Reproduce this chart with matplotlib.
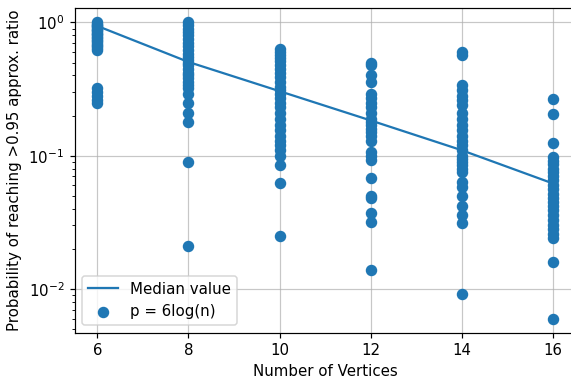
import matplotlib
matplotlib.use("Agg")
import matplotlib.pyplot as plt
import numpy as np

vertices = [6, 8, 10, 12, 14, 16]
median_values = [0.94, 0.505, 0.305, 0.184, 0.11, 0.062]

probs_6 = [1.0, 0.98, 0.96, 0.94, 0.92, 0.9, 0.88, 0.86, 0.84, 0.82, 0.8, 0.78,
           0.76, 0.74, 0.72, 0.7, 0.68, 0.66, 0.64, 0.62, 0.32, 0.3, 0.28, 0.26, 0.25]
probs_8 = [1.0, 0.95, 0.9, 0.85, 0.8, 0.75, 0.7, 0.66, 0.62, 0.58, 0.55, 0.52, 0.5,
           0.48, 0.45, 0.42, 0.4, 0.38, 0.36, 0.34, 0.32, 0.29, 0.25, 0.21, 0.18,
           0.089, 0.021]
probs_10 = [0.63, 0.6, 0.57, 0.54, 0.51, 0.48, 0.45, 0.42, 0.39, 0.36, 0.33, 0.31,
            0.29, 0.27, 0.25, 0.23, 0.21, 0.19, 0.17, 0.155, 0.14, 0.13, 0.12,
            0.11, 0.1, 0.085, 0.062, 0.025]
probs_12 = [0.5, 0.48, 0.4, 0.36, 0.29, 0.27, 0.25, 0.23, 0.21, 0.19, 0.18, 0.17,
            0.16, 0.15, 0.14, 0.13, 0.107, 0.1, 0.093, 0.068, 0.05, 0.048, 0.037,
            0.032, 0.014]
probs_14 = [0.6, 0.57, 0.34, 0.31, 0.28, 0.26, 0.24, 0.21, 0.19, 0.17, 0.155, 0.14,
            0.13, 0.12, 0.11, 0.1, 0.095, 0.09, 0.085, 0.08, 0.076, 0.064, 0.058,
            0.05, 0.042, 0.036, 0.031, 0.0092]
probs_16 = [0.268, 0.207, 0.124, 0.098, 0.092, 0.086, 0.08, 0.075, 0.07, 0.066,
            0.06, 0.056, 0.052, 0.048, 0.045, 0.042, 0.039, 0.036, 0.033, 0.03,
            0.028, 0.026, 0.024, 0.016, 0.006]

all_probs = [probs_6, probs_8, probs_10, probs_12, probs_14, probs_16]

DPI = 108
fig = plt.figure(figsize=(571 / DPI, 379 / DPI), dpi=DPI)
ax = fig.add_axes([0.1308, 0.1222, 0.877, 0.8575])

ax.plot(vertices, median_values, color="#1f77b4", label="Median value", zorder=3)
xs = []
ys = []
for v, p in zip(vertices, all_probs):
    xs.extend([v] * len(p))
    ys.extend(p)
ax.scatter(xs, ys, color="#1f77b4", s=44, label="p = 6log(n)", zorder=2)

ax.set_yscale("log")
ax.set_xlim(5.5, 16.5)
ax.set_ylim(0.0047, 1.29)
ax.set_xticks(vertices)
ax.grid(True, which="major", color="#b0b0b0", alpha=0.7)
ax.set_axisbelow(True)
ax.set_xlabel("Number of Vertices")
ax.set_ylabel("Probability of reaching >0.95 approx. ratio")
ax.legend(loc="lower left")

fig.savefig("out.png", dpi=DPI)
